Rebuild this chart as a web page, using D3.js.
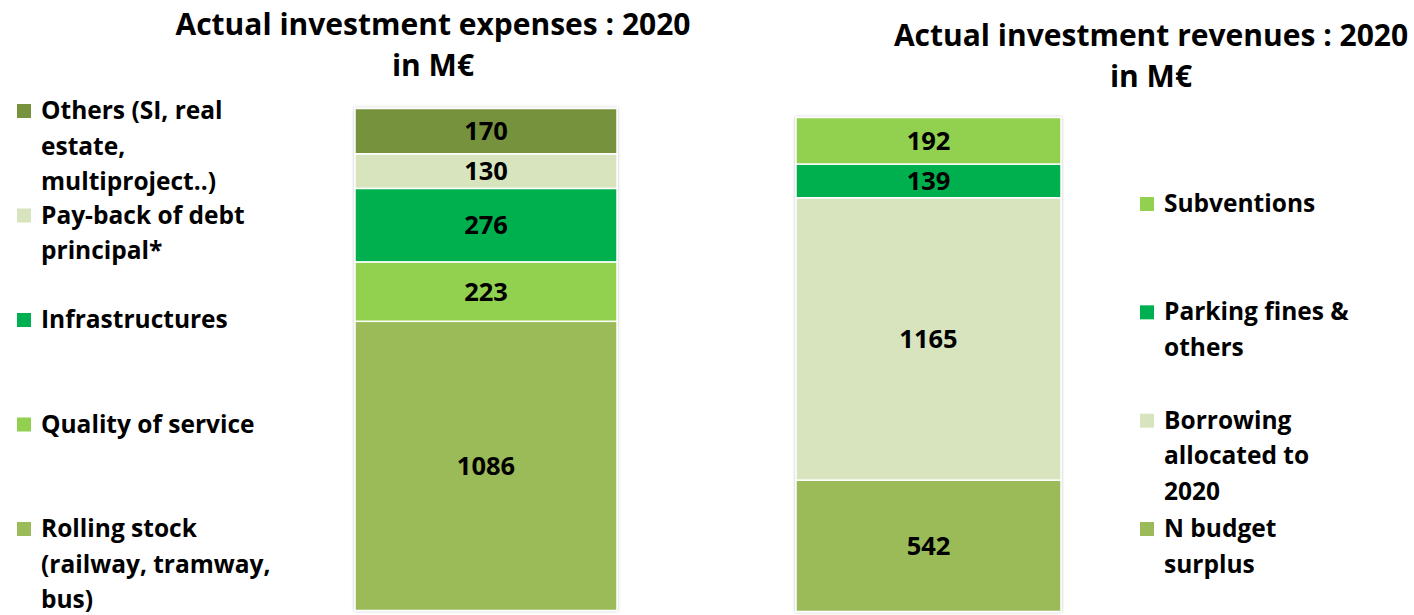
<!DOCTYPE html>
<html>
<head>
<meta charset="utf-8">
<script src="https://cdn.jsdelivr.net/npm/d3@7"></script>
<style>
  html, body { margin: 0; padding: 0; background: #ffffff; }
  svg { display: block; font-family: "Open Sans", Lato, sans-serif; font-weight: 700; }
</style>
</head>
<body>
<svg id="chart" width="1414" height="615"></svg>
<script>
// Investment expenses, 2020 (M€) — stacked bottom to top
const expenseCategories = [
  "Rolling stock\n(railway, tramway,\nbus)",
  "Quality of service",
  "Infrastructures",
  "Pay-back of debt\nprincipal*",
  "Others (SI, real\nestate,\nmultiproject..)"
];
const expenseValues = [1086, 223, 276, 130, 170];

// Investment revenues, 2020 (M€) — stacked bottom to top
const revenueCategories = [
  "N budget\nsurplus",
  "Borrowing\nallocated to\n2020",
  "Parking fines &\nothers",
  "Subventions"
];
const revenueValues = [542, 1165, 139, 192];

const expenseTitle = ["Actual investment expenses : 2020", "in M€"];
const revenueTitle = ["Actual investment revenues : 2020", "in M€"];

const C_ROLLING = "#9BBB59", C_QUALITY = "#92D050", C_INFRA = "#00B050",
      C_LIGHT = "#D7E4BD", C_DARK = "#76923C";
const expenseColors = [C_ROLLING, C_QUALITY, C_INFRA, C_LIGHT, C_DARK];
const revenueColors = [C_ROLLING, C_LIGHT, C_INFRA, C_QUALITY];

const svg = d3.select("#chart");

const defs = svg.append("defs");
const shadow = defs.append("filter").attr("id", "barShadow")
  .attr("x", "-5%").attr("y", "-5%").attr("width", "110%").attr("height", "110%");
shadow.append("feDropShadow").attr("dx", 0).attr("dy", 0)
  .attr("stdDeviation", 1.6).attr("flood-color", "#000").attr("flood-opacity", 0.28);

function drawPanel(cfg) {
  const keys = cfg.categories.map((_, i) => i);
  const row = {};
  keys.forEach(k => { row[k] = cfg.values[k]; });
  const series = d3.stack().keys(keys)([row]);

  const total = d3.sum(cfg.values);
  const y = d3.scaleLinear().domain([0, total]).range([cfg.bottom, cfg.top]);
  const x = d3.scaleBand().domain(["2020"]).range([cfg.left, cfg.right]).padding(0);

  const g = svg.append("g");

  // bar segments
  g.append("g").attr("filter", "url(#barShadow)")
    .selectAll("rect").data(series).join("rect")
    .attr("x", x("2020"))
    .attr("width", x.bandwidth())
    .attr("y", d => y(d[0][1]))
    .attr("height", d => y(d[0][0]) - y(d[0][1]))
    .attr("fill", d => cfg.colors[d.key])
    .attr("stroke", "#ffffff")
    .attr("stroke-width", 1.5);

  // value labels
  g.append("g").selectAll("text").data(series).join("text")
    .attr("x", x("2020") + x.bandwidth() / 2)
    .attr("y", d => (y(d[0][0]) + y(d[0][1])) / 2)
    .attr("dy", "0.36em")
    .attr("text-anchor", "middle")
    .attr("font-size", 25.5)
    .attr("fill", "#000")
    .text(d => cfg.values[d.key]);

  // title
  g.append("text")
    .attr("text-anchor", "middle")
    .attr("font-size", 30)
    .attr("fill", "#000")
    .selectAll("tspan").data(cfg.title).join("tspan")
    .attr("x", cfg.titleX)
    .attr("y", (d, i) => cfg.titleY + i * 41)
    .text(d => d);

  // legend: listed top to bottom, reverse of stacking order
  const order = keys.slice().reverse();
  const ly = d3.scalePoint().domain(order).range([cfg.legendTop, cfg.legendBottom]);
  const items = g.append("g").selectAll("g").data(order).join("g")
    .attr("transform", k => `translate(0,${ly(k)})`);
  items.append("rect")
    .attr("x", cfg.legendX).attr("y", -15)
    .attr("width", 14).attr("height", 14)
    .attr("fill", k => cfg.colors[k]);
  items.append("text")
    .attr("font-size", 24.5)
    .attr("fill", "#000")
    .selectAll("tspan").data(k => cfg.categories[k].split("\n")).join("tspan")
    .attr("x", cfg.legendX + 24)
    .attr("y", (d, i) => i * 35.5)
    .text(d => d);
}

drawPanel({
  categories: expenseCategories, values: expenseValues, colors: expenseColors,
  left: 355, right: 617, top: 108.5, bottom: 610.5,
  title: expenseTitle, titleX: 433, titleY: 35,
  legendX: 17, legendTop: 119, legendBottom: 537
});

drawPanel({
  categories: revenueCategories, values: revenueValues, colors: revenueColors,
  left: 796, right: 1061, top: 117.5, bottom: 611.5,
  title: revenueTitle, titleX: 1151, titleY: 46,
  legendX: 1140, legendTop: 212, legendBottom: 537
});
</script>
</body>
</html>
